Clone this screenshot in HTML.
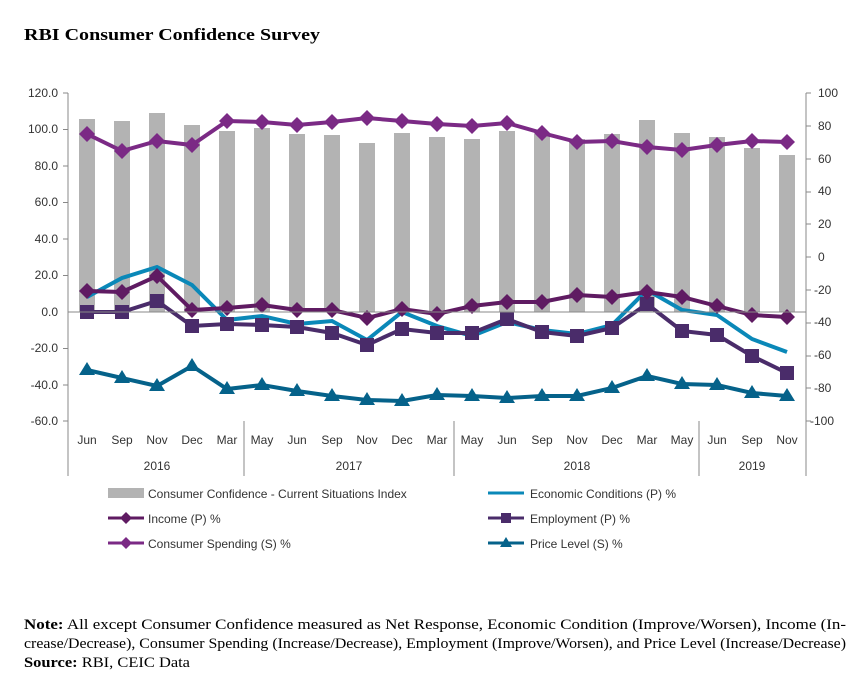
<!DOCTYPE html><html><head><style>body{margin:0;background:#fff;width:857px;height:692px;overflow:hidden}</style></head><body>
<svg width="857" height="692" xmlns="http://www.w3.org/2000/svg" font-family="Liberation Sans, Arial, sans-serif">
<text x="24" y="40" font-family="Liberation Serif, serif" font-weight="bold" font-size="17" textLength="296" lengthAdjust="spacingAndGlyphs">RBI Consumer Confidence Survey</text>
<g id="c"></g>
<line x1="68" y1="93" x2="68" y2="476" stroke="#888"/>
<line x1="806" y1="93" x2="806" y2="427" stroke="#888"/>
<line x1="68" y1="312" x2="806" y2="312" stroke="#888"/>
<g font-size="12" fill="#333" text-anchor="end">
<text x="58" y="97">120.0</text><text x="58" y="133">100.0</text><text x="58" y="170">80.0</text><text x="58" y="206">60.0</text><text x="58" y="243">40.0</text><text x="58" y="279">20.0</text><text x="58" y="316">0.0</text><text x="58" y="352">-20.0</text><text x="58" y="389">-40.0</text><text x="58" y="425">-60.0</text>
</g>
<g font-size="12" fill="#333">
<text x="818" y="97">100</text><text x="818" y="130">80</text><text x="818" y="163">60</text><text x="818" y="195">40</text><text x="818" y="228">20</text><text x="818" y="261">0</text><text x="814" y="294">-20</text><text x="814" y="326">-40</text><text x="814" y="359">-60</text><text x="814" y="392">-80</text><text x="810" y="425">-100</text>
</g>
<g stroke="#888">
<line x1="63" y1="93" x2="68" y2="93"/><line x1="63" y1="129.5" x2="68" y2="129.5"/><line x1="63" y1="166" x2="68" y2="166"/><line x1="63" y1="202.5" x2="68" y2="202.5"/><line x1="63" y1="239" x2="68" y2="239"/><line x1="63" y1="275.5" x2="68" y2="275.5"/><line x1="63" y1="348.5" x2="68" y2="348.5"/><line x1="63" y1="385" x2="68" y2="385"/><line x1="63" y1="421" x2="68" y2="421"/>
<line x1="806" y1="93" x2="811" y2="93"/><line x1="806" y1="126" x2="811" y2="126"/><line x1="806" y1="159" x2="811" y2="159"/><line x1="806" y1="192" x2="811" y2="192"/><line x1="806" y1="224" x2="811" y2="224"/><line x1="806" y1="257" x2="811" y2="257"/><line x1="806" y1="290" x2="811" y2="290"/><line x1="806" y1="323" x2="811" y2="323"/><line x1="806" y1="356" x2="811" y2="356"/><line x1="806" y1="388" x2="811" y2="388"/><line x1="806" y1="421" x2="811" y2="421"/>
<line x1="244" y1="421" x2="244" y2="476"/><line x1="454" y1="421" x2="454" y2="476"/><line x1="699" y1="421" x2="699" y2="476"/><line x1="806" y1="421" x2="806" y2="476"/>
</g>
<g font-size="12" fill="#333" text-anchor="middle" id="xl"></g>
<g font-size="12" fill="#333" text-anchor="middle"><text x="157" y="470">2016</text><text x="349" y="470">2017</text><text x="577" y="470">2018</text><text x="752" y="470">2019</text></g>
<g font-size="12" fill="#333">
<rect x="108" y="488" width="36" height="10" fill="#b3b3b3"/><text x="148" y="498">Consumer Confidence - Current Situations Index</text>
<line x1="488" y1="493" x2="524" y2="493" stroke="#0a88b8" stroke-width="3"/><text x="530" y="498">Economic Conditions (P) %</text>
<line x1="108" y1="518" x2="144" y2="518" stroke="#5f1b62" stroke-width="3"/><path d="M126 512 L132 518 L126 524 L120 518Z" fill="#5f1b62"/><text x="148" y="523">Income (P) %</text>
<line x1="488" y1="518" x2="524" y2="518" stroke="#4a2c6a" stroke-width="3"/><rect x="501" y="513" width="10" height="10" fill="#4a2c6a"/><text x="530" y="523">Employment (P) %</text>
<line x1="108" y1="543" x2="144" y2="543" stroke="#7b2a85" stroke-width="3"/><path d="M126 537 L132 543 L126 549 L120 543Z" fill="#7b2a85"/><text x="148" y="548">Consumer Spending (S) %</text>
<line x1="488" y1="543" x2="524" y2="543" stroke="#05628a" stroke-width="3"/><path d="M506 537 L512 547 L500 547Z" fill="#05628a"/><text x="530" y="548">Price Level (S) %</text>
</g>
<g font-family="Liberation Serif, serif" font-size="14.5">
<text x="24" y="629" textLength="822" lengthAdjust="spacingAndGlyphs"><tspan font-weight="bold">Note:</tspan> All except Consumer Confidence measured as Net Response, Economic Condition (Improve/Worsen), Income (In-</text>
<text x="24" y="648" textLength="822" lengthAdjust="spacingAndGlyphs">crease/Decrease), Consumer Spending (Increase/Decrease), Employment (Improve/Worsen), and Price Level (Increase/Decrease)</text>
<text x="24" y="667" textLength="166" lengthAdjust="spacingAndGlyphs"><tspan font-weight="bold">Source:</tspan> RBI, CEIC Data</text>
</g>
</svg>
<script>
const ns="http://www.w3.org/2000/svg",c=document.getElementById('c'),xl=document.getElementById('xl');
const X=i=>87+35*i;
const lab=["Jun","Sep","Nov","Dec","Mar","May","Jun","Sep","Nov","Dec","Mar","May","Jun","Sep","Nov","Dec","Mar","May","Jun","Sep","Nov"];
lab.forEach((t,i)=>{const e=document.createElementNS(ns,'text');e.setAttribute('x',X(i));e.setAttribute('y',444);e.textContent=t;xl.appendChild(e);});
const bars=[119,121,113,125,131,128,134,135,143,133,137,139,131,134,139,134,120,133,137,148,155];
let h='';
bars.forEach((y,i)=>{h+=`<rect x="${X(i)-8}" y="${y}" width="16" height="${312-y}" fill="#b3b3b3"/>`});
function ser(ys,col,m){let p=ys.map((y,i)=>X(i)+','+y).join(' ');h+=`<polyline points="${p}" fill="none" stroke="${col}" stroke-width="4"/>`;
ys.forEach((y,i)=>{const x=X(i);if(m=='d')h+=`<path d="M${x} ${y-8}L${x+8} ${y}L${x} ${y+8}L${x-8} ${y}Z" fill="${col}"/>`;else if(m=='s')h+=`<rect x="${x-7}" y="${y-7}" width="14" height="14" fill="${col}"/>`;else if(m=='t')h+=`<path d="M${x} ${y-8}L${x+8} ${y+5}L${x-8} ${y+5}Z" fill="${col}"/>`;});}
ser([297,278,267,285,320,316,324,321,340,312,326,336,322,330,334,325,290,310,315,339,352],'#0a88b8','');
ser([312,312,301,326,324,325,327,333,345,329,333,333,319,332,336,328,304,331,335,356,373],'#4a2c6a','s');
ser([291,292,276,310,308,305,310,310,318,309,314,306,302,302,295,297,292,297,306,315,317],'#5f1b62','d');
ser([134,151,141,145,121,122,125,122,118,121,124,126,123,133,142,141,147,150,145,141,142],'#7b2a85','d');
ser([370,378,386,366,389,385,391,396,400,401,395,396,398,396,396,388,376,384,385,393,396],'#05628a','t');
c.innerHTML=h;
</script>
</body></html>
